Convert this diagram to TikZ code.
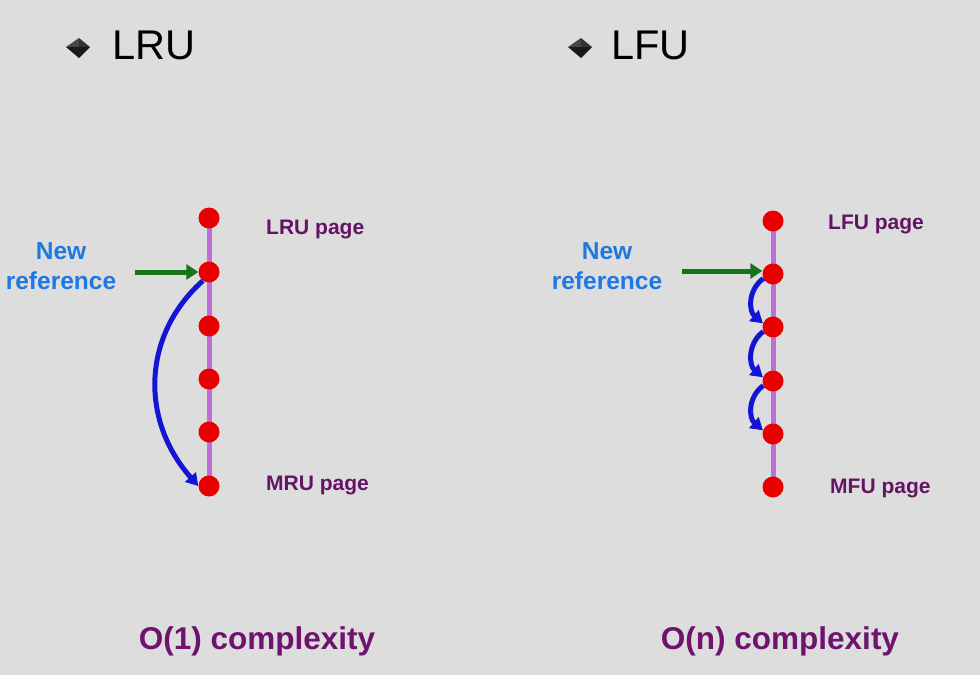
\documentclass[tikz,border=0pt]{standalone}
\usepackage{fontspec}
\setmainfont{Liberation Sans}
\usetikzlibrary{arrows.meta}
\definecolor{bg}{RGB}{221,221,221}
\definecolor{dotred}{RGB}{232,0,0}
\definecolor{rail}{RGB}{190,110,215}
\definecolor{lab}{RGB}{100,20,100}
\definecolor{cplx}{RGB}{110,20,110}
\definecolor{newref}{RGB}{30,120,225}
\definecolor{grn}{RGB}{25,115,25}
\definecolor{blu}{RGB}{20,20,215}
\tikzset{
  pagedot/.style={circle,fill=dotred,inner sep=0pt,minimum size=21pt},
  raill/.style={rail,line width=5pt},
  pagelab/.style={text=lab,font=\fontsize{21}{21}\selectfont\bfseries,anchor=west,inner sep=0pt},
  cplxlab/.style={text=cplx,font=\fontsize{31.5}{31.5}\selectfont\bfseries,inner sep=0pt},
  reflab/.style={text=newref,font=\fontsize{24.5}{30}\selectfont\bfseries,align=center,inner sep=0pt},
  title/.style={text=black,font=\fontsize{41.5}{41.5}\selectfont,anchor=west,inner sep=0pt},
  grnarrow/.style={grn,line width=5pt,-{Triangle[length=12pt,width=15pt]}},
  bluarrow/.style={blu,line width=5pt,-{Triangle[length=12pt,width=14pt]}},
}
\begin{document}
\begin{tikzpicture}[x=1pt,y=-1pt]
\fill[bg] (0,0) rectangle (980,675);
\useasboundingbox (0,0) rectangle (980,675);
% bullets
\foreach \bx in {66,568}{
  \fill[gray!55!black] (\bx,47) -- (\bx+13,38) -- (\bx+13,48) -- cycle;
  \fill[gray!40!black] (\bx+13,38) -- (\bx+24,47) -- (\bx+13,48) -- cycle;
  \fill[black!90] (\bx,47) -- (\bx+24,47) -- (\bx+13,58) -- cycle;
}
\node[title] (t1) at (112,45) {LRU};
\node[title] (t2) at (611,45) {LFU};
% left column
\draw[raill] (209,218) -- (209,486);
\foreach \i/\y in {1/218,2/272,3/326,4/379,5/432,6/486}{
  \node[pagedot] (l\i) at (209,\y) {};
}
\node[pagelab] (llru) at (266,229) {LRU page};
\node[pagelab] (lmru) at (266,485) {MRU page};
\node[reflab] (lref) at (61,266) {New\\reference};
\coordinate (lga) at (135,272);
\draw[grnarrow] (lga) -- (l2.west);
\draw[bluarrow] (l2.235) .. controls (142,335) and (140,420) .. (l6.west);
% right column
\draw[raill] (773,221) -- (773,487);
\foreach \i/\y in {1/221,2/274,3/327,4/381,5/434,6/487}{
  \node[pagedot] (r\i) at (773,\y) {};
}
\node[pagelab] (rlfu) at (828,224) {LFU page};
\node[pagelab] (rmfu) at (830,488) {MFU page};
\node[reflab] (rref) at (607,266) {New\\reference};
\coordinate (rga) at (682,271);
\draw[grnarrow] (rga) -- (r2.west |- rga);
\foreach \a/\b in {2/3,3/4,4/5}{
  \draw[bluarrow] (r\a.205) .. controls +(-16,12) and +(-14,-12) .. (r\b.160);
}
\node[cplxlab] (c1) at (257,641) {O(1) complexity};
\node[cplxlab] (c2) at (780,641) {O(n) complexity};
\end{tikzpicture}
\end{document}
